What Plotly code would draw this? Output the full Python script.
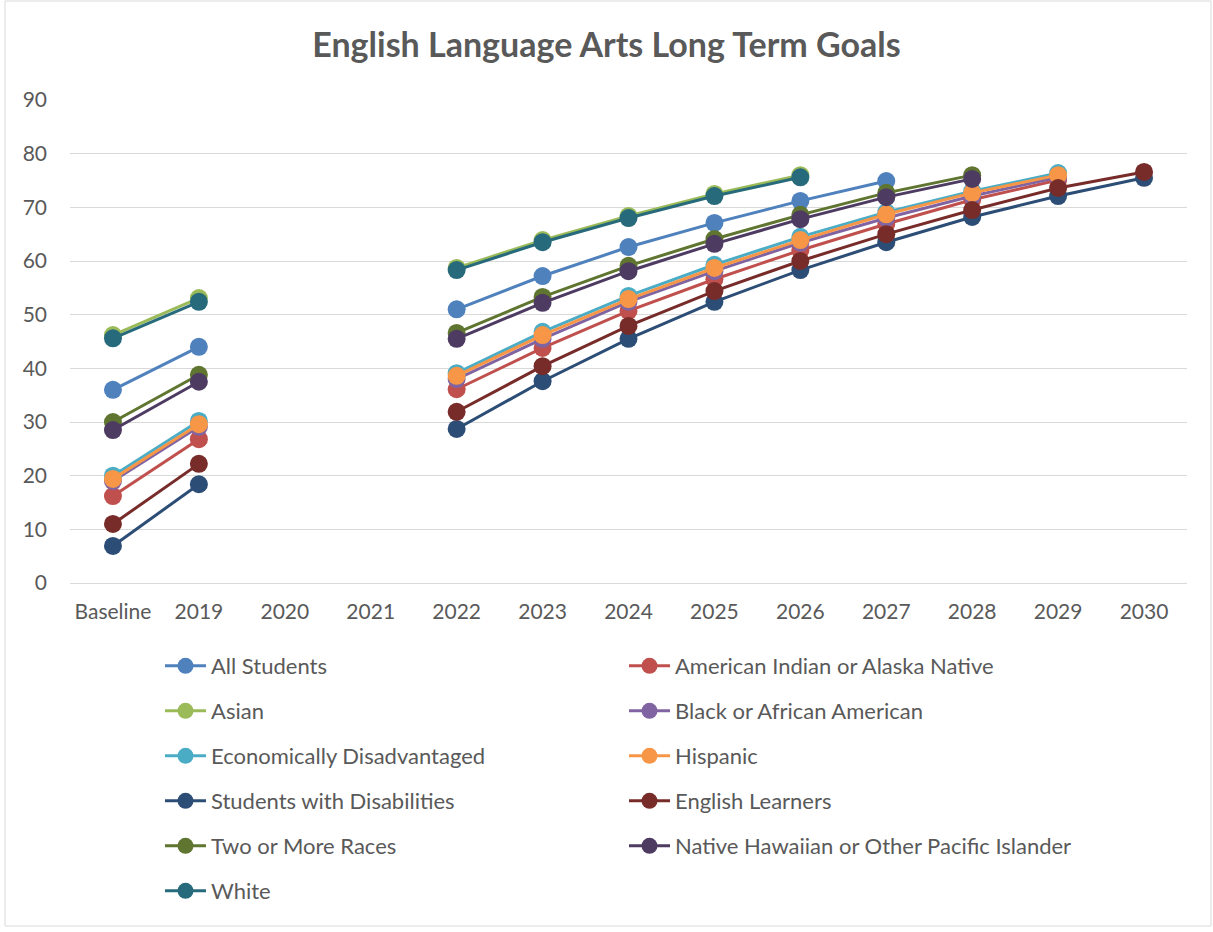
import plotly.graph_objects as go

categories = ["Baseline", "2019", "2020", "2021", "2022", "2023", "2024",
              "2025", "2026", "2027", "2028", "2029", "2030"]

all_students = [36.0, 44.0, None, None, 51.0, 57.2, 62.6, 67.1, 71.2, 74.9, None, None, None]
american_indian = [16.2, 26.8, None, None, 36.1, 43.8, 50.7, 56.6, 62.0, 66.9, 71.4, 75.1, None]
asian = [46.2, 53.1, None, None, 58.7, 63.9, 68.4, 72.5, 76.0, None, None, None, None]
black = [19.0, 29.1, None, None, 38.0, 45.5, 52.4, 58.1, 63.4, 68.0, 72.1, 75.6, None]
econ_disadv = [20.0, 30.2, None, None, 39.1, 46.8, 53.5, 59.3, 64.5, 69.1, 73.0, 76.4, None]
hispanic = [19.4, 29.6, None, None, 38.6, 46.2, 52.9, 58.7, 63.9, 68.7, 72.7, 76.0, None]
swd = [6.9, 18.4, None, None, 28.7, 37.6, 45.5, 52.4, 58.3, 63.5, 68.2, 72.1, 75.5]
english_learners = [11.0, 22.2, None, None, 31.9, 40.4, 47.9, 54.4, 60.0, 65.0, 69.5, 73.6, 76.6]
two_or_more = [30.0, 38.8, None, None, 46.6, 53.3, 59.1, 64.1, 68.6, 72.7, 76.0, None, None]
native_hawaiian = [28.5, 37.5, None, None, 45.5, 52.2, 58.1, 63.2, 67.8, 71.9, 75.3, None, None]
white = [45.6, 52.4, None, None, 58.3, 63.5, 68.0, 72.1, 75.6, None, None, None, None]

series = [
    ("All Students", all_students, "#4F81BD"),
    ("American Indian or Alaska Native", american_indian, "#C0504D"),
    ("Asian", asian, "#9BBB59"),
    ("Black or African American", black, "#8064A2"),
    ("Economically Disadvantaged", econ_disadv, "#4BACC6"),
    ("Hispanic", hispanic, "#F79646"),
    ("Students with Disabilities", swd, "#2C4D75"),
    ("English Learners", english_learners, "#772C2A"),
    ("Two or More Races", two_or_more, "#5F7530"),
    ("Native Hawaiian or Other Pacific Islander", native_hawaiian, "#4D3B62"),
    ("White", white, "#276A7C"),
]

FONT = "Lato"
TXT = "#595959"

fig = go.Figure()
for i, (name, vals, color) in enumerate(series):
    row = i // 2
    leg = "legend" if row == 0 else f"legend{row + 1}"
    fig.add_trace(go.Scatter(
        x=categories, y=vals, name=name, mode="lines+markers",
        line=dict(color=color, width=3),
        marker=dict(color=color, size=18, symbol="circle"),
        connectgaps=False, legend=leg,
    ))

L, R, T, B = 70, 26, 100, 349
W, H = 1213, 932
pw, ph = W - L - R, H - T - B

layout_legends = {}
row_y = [666, 711, 756, 801, 846, 891]
for r, py in enumerate(row_y):
    key = "legend" if r == 0 else f"legend{r + 1}"
    layout_legends[key] = dict(
        orientation="h", x=(160 - L) / pw, xanchor="left",
        y=(H - B - py) / ph, yanchor="middle",
        entrywidth=408, entrywidthmode="pixels",
        font=dict(family=FONT, size=22, color=TXT),
        bgcolor="rgba(0,0,0,0)", itemwidth=41,
        traceorder="normal",
    )

fig.update_layout(
    width=W, height=H,
    margin=dict(l=L, r=R, t=T, b=B),
    paper_bgcolor="white", plot_bgcolor="white",
    title=dict(text="<b>English Language Arts Long Term Goals</b>",
               x=0.5, xanchor="center", y=1 - 45 / H, yanchor="middle",
               font=dict(family=FONT, size=34, color=TXT)),
    xaxis=dict(type="category", categoryorder="array", categoryarray=categories,
               range=[-0.5, len(categories) - 0.5],
               showgrid=False, zeroline=False, showline=True,
               linecolor="#D9D9D9", linewidth=1,
               tickfont=dict(family=FONT, size=21, color=TXT),
               ticks="", ticklabelstandoff=10),
    yaxis=dict(range=[0, 90], dtick=10, showgrid=True, gridcolor="#D9D9D9",
               gridwidth=1, zeroline=False, showline=False,
               tickfont=dict(family=FONT, size=21, color=TXT),
               ticks="", ticklabelstandoff=22),
    showlegend=True,
    shapes=[dict(type="rect", xref="paper", yref="paper",
                 x0=(5 - L) / pw, x1=(1211 - L) / pw,
                 y0=(H - B - 926) / ph, y1=(H - B - 1) / ph,
                 line=dict(color="#D9D9D9", width=1), layer="below")],
    **layout_legends,
)

fig.write_html("out.html")
